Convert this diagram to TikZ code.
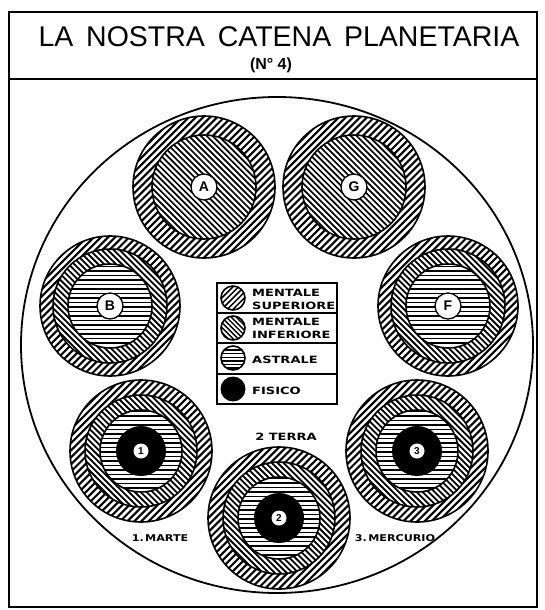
\documentclass[tikz,border=0pt]{standalone}
\usepackage{fontspec}
\setmainfont{Liberation Sans}
\newfontfamily\legfont[FakeStretch=1.3]{DejaVu Sans}
\newfontfamily\namefont[FakeStretch=1.2]{DejaVu Sans}
\tikzset{
  frame/.style={line width=2.6pt},
  ringline/.style={line width=1.6pt},
  lab/.style={circle, draw, fill=white, line width=1.3pt, minimum size=26pt, inner sep=0pt, font=\bfseries\fontsize{14}{14}\selectfont},
  numlab/.style={circle, fill=white, minimum size=15pt, inner sep=0pt, font=\bfseries\fontsize{10}{10}\selectfont},
  legtext/.style={anchor=base west, inner sep=0pt, font=\legfont\bfseries\fontsize{10}{10}\selectfont},
  gtext/.style={anchor=base, inner sep=0pt, font=\legfont\bfseries\fontsize{10}{10}\selectfont},
  ntext/.style={anchor=base, inner sep=0pt, font=\namefont\bfseries\fontsize{9.3}{9.3}\selectfont},
}
% hatched disk: x, y, radius, angle, spacing, line width
\newcommand\hdisk[6]{%
  \fill[white] (#1,#2) circle (#3pt);
  \begin{scope}
    \clip (#1,#2) circle (#3pt);
    \pgfmathsetmacro\hsecond{-80+#5}
    \foreach \i in {-80,\hsecond,...,80}
      \draw[line width=#6pt, shift={(#1,#2)}, rotate=#4] (-80,\i) -- (80,\i);
  \end{scope}
  \draw[ringline] (#1,#2) circle (#3pt);
}
\newcommand\blackdisk[3]{%
  \fill[black] (#1,#2) circle (#3pt);
}
% globe types
\newcommand\globeM[2]{% mental only
  \hdisk{#1}{#2}{71}{45}{5}{2.1}
  \hdisk{#1}{#2}{52}{-45}{4.2}{1.7}
}
\newcommand\globeA[2]{% mental + astral
  \hdisk{#1}{#2}{70}{45}{5}{2.1}
  \hdisk{#1}{#2}{57}{-45}{4.2}{1.8}
  \hdisk{#1}{#2}{42}{0}{4.5}{1.9}
}
\newcommand\globeF[2]{% full
  \hdisk{#1}{#2}{71}{45}{5}{2.1}
  \hdisk{#1}{#2}{56}{-45}{4.2}{1.8}
  \hdisk{#1}{#2}{41}{0}{4.5}{1.9}
  \blackdisk{#1}{#2}{25}
}
\begin{document}
\begin{tikzpicture}[x=1pt, y=-1pt]
\useasboundingbox (0,0) rectangle (545,610);
\fill[white] (0,0) rectangle (545,610);
% frame
\draw[frame] (9,12) rectangle (537,607);
\draw[frame] (9,79) -- (537,79);
\node[anchor=base, inner sep=0pt, font=\fontsize{28.5}{30}\selectfont] (title) at (279,47) {LA\hspace{0.45em}NOSTRA\hspace{0.45em}CATENA\hspace{0.45em}PLANETARIA};
\node[anchor=base, inner sep=0pt, font=\bfseries\fontsize{16}{16}\selectfont] (sub) at (271,70) {(N° 4)};
% big circle
\draw[line width=1.8pt] (277,345) ellipse (256pt and 248pt);
% globes
\globeM{204}{187}
\globeM{354}{187}
\globeA{110}{306}
\globeA{448}{306}
\globeF{141}{451}
\globeF{279}{518}
\globeF{417}{451}
\node[lab] (gA) at (204,187) {A};
\node[lab] (gG) at (354,187) {G};
\node[lab] (gB) at (110,306) {B};
\node[lab] (gF) at (448,306) {F};
\node[numlab] (g1) at (141,451) {1};
\node[numlab] (g2) at (279,518) {2};
\node[numlab] (g3) at (417,451) {3};
% globe names
\node[gtext] (t2) at (286,440) {2 TERRA};
\node[ntext] (t1) at (160,541) {1.\hspace{0.15em}MARTE};
\node[ntext] (t3) at (395,541) {3.\hspace{0.15em}MERCURIO};
% legend
\fill[white] (217,283) rectangle (337,404);
\hdisk{233}{298}{12}{45}{4}{1.5}
\hdisk{233}{328}{12}{-45}{3.5}{1.4}
\hdisk{233}{358}{12}{0}{3.6}{1.4}
\blackdisk{233}{389}{12.5}
\draw[line width=1.5pt] (217,283) rectangle (337,404);
\draw[line width=1.5pt] (217,313) -- (337,313);
\draw[line width=1.5pt] (217,343) -- (337,343);
\draw[line width=1.5pt] (217,374) -- (337,374);
\node[legtext] (l1a) at (252,296) {MENTALE};
\node[legtext] (l1b) at (252,309) {SUPERIORE};
\node[legtext] (l2a) at (252,325) {MENTALE};
\node[legtext] (l2b) at (252,338) {INFERIORE};
\node[legtext] (l3) at (252,363) {ASTRALE};
\node[legtext] (l4) at (252,394) {FISICO};
\end{tikzpicture}
\end{document}
